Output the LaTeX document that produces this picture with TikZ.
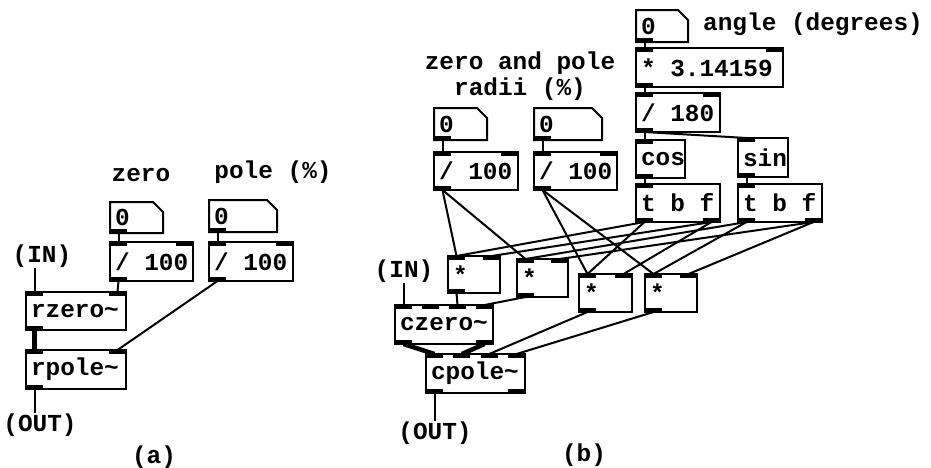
\documentclass[tikz,border=0pt]{standalone}
\usepackage{fontspec}
\newfontfamily\pdfnt{Liberation Mono}
\usetikzlibrary{calc}
\tikzset{
  pdtxt/.style={font=\pdfnt\bfseries\fontsize{24.4}{29}\selectfont},
  pdbox/.style={pdtxt, draw, line width=2pt, fill=white, anchor=north west,
    inner xsep=5pt, inner ysep=0pt, outer sep=0pt},
  lbl/.style={pdtxt, inner sep=0pt},
  ctl/.style={line width=2pt},
  sig/.style={line width=4.5pt},
}
% #1 name, #2 x, #3 y, #4 width, #5 height, #6 text, #7 inlets, #8 outlets
\newcommand\pdobj[8]{%
  \pgfmathsetmacro\pdtw{#4-10}%
  \node[pdbox, minimum height=#5pt] (#1) at (#2,#3) {\makebox[\pdtw pt][l]{#6}};
  \foreach \i in {1,...,#7}{
    \pgfmathsetmacro\pdcx{#2+8.5+(#4-17)*(\i-1)/max(#7-1,1)}
    \fill (\pdcx-8.5,#3-1) rectangle (\pdcx+8.5,#3+4);
    \coordinate (#1-i\i) at (\pdcx,#3);
  }
  \foreach \i in {1,...,#8}{
    \pgfmathsetmacro\pdcx{#2+8.5+(#4-17)*(\i-1)/max(#8-1,1)}
    \fill (\pdcx-8.5,#3+#5-4) rectangle (\pdcx+8.5,#3+#5+1);
    \coordinate (#1-o\i) at (\pdcx,#3+#5);
  }
}
% number box: #1 name, #2 x, #3 y, #4 width, #5 height
\newcommand\pdnum[5]{%
  \pgfmathsetmacro\pdtw{#4-10}%
  \node[pdtxt, anchor=north west, inner xsep=5pt, inner ysep=0pt, outer sep=0pt,
    minimum height=#5pt] (#1) at (#2,#3) {\makebox[\pdtw pt][l]{0}};
  \draw[line width=2pt] (#1.north west) -- ($(#1.north east)+(-10,0)$)
    -- ($(#1.north east)+(0,10)$) -- (#1.south east) -- (#1.south west) -- cycle;
  \fill (#2,#3+#5-4) rectangle (#2+17,#3+#5+1);
  \coordinate (#1-o1) at (#2+8.5,#3+#5);
}
\begin{document}
\begin{tikzpicture}[x=1pt,y=-1pt]
\useasboundingbox (0,0) rectangle (931,467);
% ---------- (a) ----------
\node[lbl] (zeroL) at (141,175) {zero};
\node[lbl] (poleL) at (273,172) {pole (\%)};
\pdnum{nbA1}{110}{202}{53}{31}
\pdnum{nbA2}{209}{200}{68}{32}
\pdobj{divA1}{110}{242}{83}{39}{/ 100}{2}{1}
\pdobj{divA2}{209}{242}{84}{39}{/ 100}{2}{1}
\pdobj{rz}{26}{292}{100}{38}{rzero\textasciitilde}{2}{1}
\pdobj{rp}{26}{350}{100}{39}{rpole\textasciitilde}{2}{1}
\node[lbl] (inA) at (42,256) {(IN)};
\node[lbl] (outA) at (40,425) {(OUT)};
\node[lbl] (capA) at (154,457) {(a)};
\draw[ctl] (nbA1-o1) -- (divA1-i1);
\draw[ctl] (nbA2-o1) -- (divA2-i1);
\draw[ctl] (divA1-o1) -- (rz-i2);
\draw[ctl] (divA2-o1) -- (rp-i2);
\draw[sig] (rz-o1) -- (rp-i1);
\draw[ctl] (rz-i1) -- (rz-i1 |- inA.south);
\draw[ctl] (rp-o1) -- (rp-o1 |- outA.north);
% ---------- (b) ----------
\node[lbl] (angL) at (813,24) {angle (degrees)};
\node[lbl] (zpL) at (520,63) {zero and pole};
\node[lbl] (radL) at (520,89) {radii (\%)};
\pdnum{nbAng}{636}{10}{52}{32}
\pdobj{mulpi}{636}{48}{147}{39}{* 3.14159}{2}{1}
\pdobj{div180}{636}{93}{84}{39}{/ 180}{2}{1}
\pdobj{cosb}{636}{140}{49}{38}{cos}{1}{1}
\pdobj{sinb}{738}{138}{50}{39}{sin}{1}{1}
\pdobj{tbfA}{636}{184}{84}{38}{t b f}{1}{2}
\pdobj{tbfB}{738}{184}{84}{38}{t b f}{1}{2}
\pdnum{nbB1}{434}{108}{53}{32}
\pdnum{nbB2}{534}{108}{68}{32}
\pdobj{divB1}{434}{152}{84}{38}{/ 100}{2}{1}
\pdobj{divB2}{534}{152}{83}{38}{/ 100}{2}{1}
\pdobj{m1}{448}{256}{52}{37}{*}{2}{1}
\pdobj{m2}{517}{259}{51}{38}{*}{2}{1}
\pdobj{m3}{579}{274}{53}{38}{*}{2}{1}
\pdobj{m4}{645}{274}{52}{38}{*}{2}{1}
\pdobj{cz}{395}{305}{98}{39}{czero\textasciitilde}{4}{2}
\pdobj{cp}{426}{354}{99}{39}{cpole\textasciitilde}{4}{2}
\node[lbl] (inB) at (404,271) {(IN)};
\node[lbl] (outB) at (435,433) {(OUT)};
\node[lbl] (capB) at (584,455) {(b)};
\draw[ctl] (nbAng-o1) -- (mulpi-i1);
\draw[ctl] (mulpi-o1) -- (div180-i1);
\draw[ctl] (div180-o1) -- (cosb-i1);
\draw[ctl] (div180-o1) -- (sinb-i1);
\draw[ctl] (cosb-o1) -- (tbfA-i1);
\draw[ctl] (sinb-o1) -- (tbfB-i1);
\draw[ctl] (nbB1-o1) -- (divB1-i1);
\draw[ctl] (nbB2-o1) -- (divB2-i1);
\draw[ctl] (divB1-o1) -- (m1-i1);
\draw[ctl] (divB1-o1) -- (m2-i1);
\draw[ctl] (divB2-o1) -- (m3-i1);
\draw[ctl] (divB2-o1) -- (m4-i1);
\draw[ctl] (tbfA-o1) -- (m1-i1);
\draw[ctl] (tbfA-o1) -- (m3-i1);
\draw[ctl] (tbfA-o2) -- (m1-i2);
\draw[ctl] (tbfA-o2) -- (m3-i2);
\draw[ctl] (tbfB-o1) -- (m2-i1);
\draw[ctl] (tbfB-o1) -- (m4-i1);
\draw[ctl] (tbfB-o2) -- (m2-i2);
\draw[ctl] (tbfB-o2) -- (m4-i2);
\draw[ctl] (m1-o1) -- (cz-i3);
\draw[ctl] (m2-o1) -- (cz-i4);
\draw[ctl] (m3-o1) -- (cp-i3);
\draw[ctl] (m4-o1) -- (cp-i4);
\draw[sig] (cz-o1) -- (cp-i1);
\draw[sig] (cz-o2) -- (cp-i2);
\draw[ctl] (cz-i1) -- (cz-i1 |- inB.south);
\draw[ctl] (cp-o1) -- (cp-o1 |- outB.north);
\end{tikzpicture}
\end{document}
